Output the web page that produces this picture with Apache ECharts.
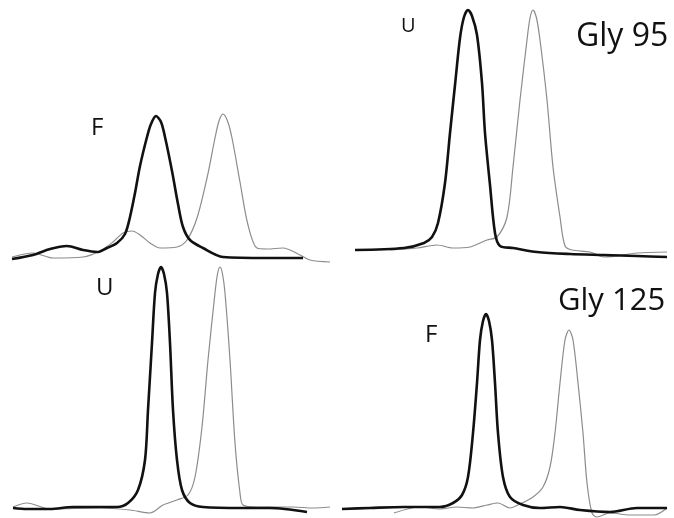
<!DOCTYPE html>
<html>
<head>
<meta charset="utf-8">
<script src="https://cdn.jsdelivr.net/npm/echarts@6/dist/echarts.min.js"></script>
<style>html,body{margin:0;padding:0;background:#fff;}#main{width:674px;height:518px;}</style>
</head>
<body>
<div id="main"></div>
<script>
// Panel 1 (top-left, F) : [elution, signal]
var p1Black = [[12,-1],[33,3],[50,9],[67,12],[83,8],[97,6],[107,10],[117,15],[125,24],[130,41],[135,65],[140,92],[147,121],[151,134],[156,142],[161,136],[165,121],[172,87],[178,54],[183,31],[190,18],[203,10],[223,1],[267,0],[303,0]];
var p1Gray = [[12,1],[33,5],[53,0],[83,1],[100,7],[113,16],[123,25],[132,27],[140,23],[150,15],[160,10],[177,11],[187,18],[197,40],[207,80],[215,120],[219,137],[223,144],[227.5,137],[232,120],[240,76],[248,33],[257,10],[267,9],[283,10],[300,3],[310,-2],[330,-4]];
// Panel 2 (top-right, U, Gly 95)
var p2Black = [[18,0],[67,2],[87,7],[95,13],[101,27],[108,67],[113,117],[118,165],[123,212],[127,233],[131,240],[135,234],[140,215],[145,167],[148,117],[153,65],[158,17],[163,4],[176,2],[200,-2],[233,-4],[267,-5],[300,-6],[330,-7]];
var p2Gray = [[53,0],[80,2],[100,5],[116,2],[133,3],[150,10],[160,13],[170,33],[176,83],[183,150],[190,210],[193,232],[196,240],[199.5,232],[203,210],[210,150],[216,83],[223,33],[228,4],[235,0],[253,-2],[267,-7],[300,-3],[330,-2]];
// Panel 3 (bottom-left, U)
var p3Black = [[13,0],[27,-1],[50,-1],[73,1],[107,1],[117,1],[128,5],[138,18],[145,48],[148,98],[152,165],[155,215],[158,234],[161,241],[164,234],[167,215],[170,165],[173,98],[177,48],[182,18],[190,5],[203,1],[243,0],[270,0],[307,-4]];
var p3Gray = [[13,1],[27,5],[50,-1],[100,0],[130,-2],[150,-5],[163,3],[177,8],[188,13],[195,31],[202,81],[208,148],[215,215],[217.5,234],[220,241],[222.5,234],[225,215],[230,148],[235,65],[240,15],[243,3],[257,1],[270,1],[293,1],[313,0],[330,1]];
// Panel 4 (bottom-right, F, Gly 125)
var p4Black = [[5,-1],[33,0],[67,1],[103,1],[116,5],[125,13],[131,31],[136,75],[140,125],[143,168],[146,187],[149,194],[152,187],[155,168],[158,125],[161,75],[166,31],[173,11],[186,3],[203,0],[223,1],[243,-2],[273,-4],[300,0],[330,0]];
var p4Gray = [[57,-5],[83,1],[103,-1],[120,1],[136,0],[150,3],[161,5],[173,0],[183,4],[196,11],[206,21],[213,41],[218,75],[223,125],[228,168],[232,178],[236,168],[241,125],[246,75],[250,25],[255,-5],[260,-9],[273,-5],[293,-7],[317,-7],[330,0]];

var labels = ['F','U','Gly 95','U','F','Gly 125'];

var panels = [
  {left:0, top:100, width:337, height:170, ymin:-12, ymax:158, black:p1Black, gray:p1Gray},
  {left:337, top:0, width:337, height:270, ymin:-20, ymax:250, black:p2Black, gray:p2Gray},
  {left:0, top:260, width:337, height:258, ymin:-10, ymax:248, black:p3Black, gray:p3Gray},
  {left:337, top:260, width:337, height:258, ymin:-10, ymax:248, black:p4Black, gray:p4Gray}
];

var grids=[], xAxes=[], yAxes=[], series=[];
panels.forEach(function(p,i){
  grids.push({left:p.left, top:p.top, width:p.width, height:p.height, containLabel:false});
  xAxes.push({type:'value', gridIndex:i, min:0, max:337, show:false});
  yAxes.push({type:'value', gridIndex:i, min:p.ymin, max:p.ymax, show:false});
  series.push({type:'line', xAxisIndex:i, yAxisIndex:i, data:p.gray, smooth:0.3, showSymbol:false, clip:false,
    lineStyle:{color:'#8c8c8c', width:1.2}, z:2});
  series.push({type:'line', xAxisIndex:i, yAxisIndex:i, data:p.black, smooth:0.3, showSymbol:false, clip:false,
    lineStyle:{color:'#111', width:2.6}, z:3});
});

var fontFam = '"Open Sans", "Noto Sans", sans-serif';
function lab(t, l, tp, fs){
  return {text:t, left:l, top:tp, padding:0, textStyle:{fontFamily:fontFam, fontSize:fs, fontWeight:'normal', color:'#111'}};
}
var titles = [
  lab(labels[0], 91, 116, 24),
  lab(labels[1], 401, 16, 20),
  lab(labels[2], 576, 21, 32),
  lab(labels[3], 96, 276, 24),
  lab(labels[4], 425, 323, 24),
  lab(labels[5], 558, 286, 31)
];

var chart = echarts.init(document.getElementById('main'), null, {renderer:'canvas'});
chart.setOption({
  animation:false,
  backgroundColor:'#fff',
  title:titles,
  grid:grids, xAxis:xAxes, yAxis:yAxes, series:series
});
</script>
</body>
</html>
